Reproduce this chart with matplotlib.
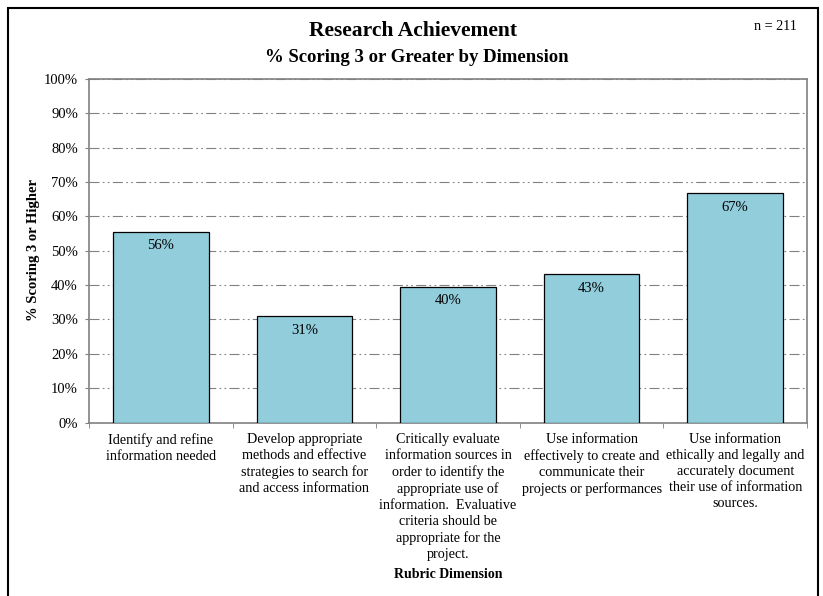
import numpy as np
import matplotlib
matplotlib.use("Agg")
import matplotlib.pyplot as plt
from matplotlib.patches import Rectangle

plt.rcParams["font.family"] = ["Liberation Serif", "DejaVu Serif"]

# data
categories = [
    "Identify and refine\ninformation needed",
    "Develop appropriate\nmethods and effective\nstrategies to search for\nand access information",
    "Critically evaluate\ninformation sources in\norder to identify the\nappropriate use of\ninformation.  Evaluative\ncriteria should be\nappropriate for the\nproject.",
    "Use information\neffectively to create and\ncommunicate their\nprojects or performances",
    "Use information\nethically and legally and\naccurately document\ntheir use of information\nsources.",
]
pct_values = [55.5, 31.0, 39.5, 43.2, 66.8]
bar_labels = ["56%", "31%", "40%", "43%", "67%"]
y_ticks = list(range(0, 101, 10))

W, H = 823, 596
fig = plt.figure(figsize=(W / 100, H / 100), dpi=100)
ax = fig.add_axes([89 / W, 1 - 422.5 / H, (807 - 89) / W, (422.5 - 79) / H])

x = np.arange(len(categories))
bars = ax.bar(x, pct_values, width=0.667, color="#92CDDC", edgecolor="black",
              linewidth=0.9, zorder=3)

# value labels sit just inside the top of each bar
for b, lab in zip(bars, bar_labels):
    ax.annotate(lab, (b.get_x() + b.get_width() / 2, b.get_height()),
                xytext=(0, -14), textcoords="offset pixels",
                ha="center", va="center", fontsize=10.5, zorder=4)

ax.set_xlim(-0.5, len(categories) - 0.5)
ax.set_ylim(0, 100)
ax.set_yticks(y_ticks)
ax.set_yticklabels([f"{t}%" for t in y_ticks], fontsize=10.5)

# category labels on major ticks, tick marks between categories on minor ticks
ax.set_xticks(x)
ax.set_xticklabels(categories, fontsize=10.2, linespacing=1.3, va="top")
ax.set_xticks(np.arange(-0.5, len(categories), 1), minor=True)
ax.tick_params(axis="x", which="major", length=0, pad=7.5)
ax.tick_params(axis="x", which="minor", length=3.5, color="#808080", direction="out")
ax.tick_params(axis="y", length=3, color="#808080", direction="out", pad=5)

for s in ax.spines.values():
    s.set_color("#808080")
    s.set_linewidth(1.2)

ax.yaxis.grid(True, color="#808080", linewidth=0.8,
              linestyle=(0, (9, 3, 1.5, 3, 1.5, 3)), zorder=0)
ax.set_axisbelow(True)

ax.set_ylabel("% Scoring 3 or Higher", fontsize=10.5, fontweight="bold")
ax.yaxis.set_label_coords((40 - 89) / 718, 0.502)

fig.text(448 / W, 1 - 574 / H, "Rubric Dimension", ha="center", va="center",
         fontsize=10, fontweight="bold")

fig.text(413.5 / W, 1 - 31 / H, "Research Achievement", ha="center", va="center",
         fontsize=15.5, fontweight="bold")
fig.text(416.5 / W, 1 - 57 / H, "% Scoring 3 or Greater by Dimension", ha="center",
         va="center", fontsize=13.5, fontweight="bold")
fig.text(775 / W, 1 - 27 / H, "n = 211", ha="center", va="center", fontsize=10.2)

# outer border
fig.patches.append(Rectangle((8 / W, -0.02), (818 - 8) / W, 1.02 - 8 / H,
                             transform=fig.transFigure, fill=False,
                             edgecolor="black", linewidth=1.5))

fig.savefig("out.png", dpi=100)
